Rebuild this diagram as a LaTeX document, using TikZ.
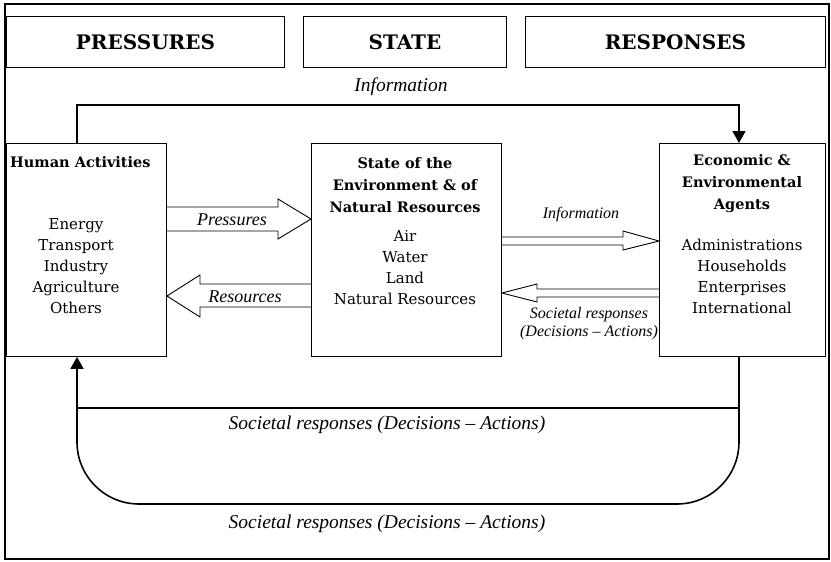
\documentclass[tikz,border=0pt]{standalone}
\usepackage{fontspec}
\setmainfont{DejaVu Serif}
\newfontfamily\labfont{Liberation Serif}
\usetikzlibrary{arrows.meta}
\begin{document}
\begin{tikzpicture}[x=1pt,y=-1pt,
  box/.style={draw, line width=0.9pt, inner sep=0pt, anchor=north west},
  conn/.style={line width=1.6pt, line join=miter},
  tip/.style={-{Triangle[length=12pt,width=13pt]}},
  blk/.style={draw, line width=0.9pt, line join=miter},
  lab/.style={font=\labfont\itshape\fontsize{19.5}{22}\selectfont, inner sep=0pt},
  mlab/.style={font=\labfont\itshape\fontsize{18}{20}\selectfont, inner sep=0pt},
  slab/.style={font=\labfont\itshape\fontsize{16}{18.5}\selectfont, inner sep=0pt, align=center},
  hdr/.style={font=\bfseries\fontsize{20}{22}\selectfont, inner sep=0pt},
  ttl/.style={font=\bfseries\fontsize{14.5}{22}\selectfont, align=center, inner sep=0pt},
  itm/.style={font=\fontsize{15}{21}\selectfont, align=center, inner sep=0pt},
]
\useasboundingbox (0,0) rectangle (831,562);
\draw[line width=1.8pt] (5,4) rectangle (829,559);
% header boxes
\node[box, minimum width=278pt, minimum height=51pt] (hp) at (6,16) {};
\node[box, minimum width=203pt, minimum height=51pt] (hs) at (303,16) {};
\node[box, minimum width=300pt, minimum height=51pt] (hr) at (525,16) {};
\node[hdr] (hpt) at (hp.center) {PRESSURES};
\node[hdr] (hst) at (hs.center) {STATE};
\node[hdr] (hrt) at (hr.center) {RESPONSES};
% main boxes
\node[box, minimum width=160pt, minimum height=213pt] (ha) at (6,143) {};
\node[box, minimum width=190pt, minimum height=213pt] (st) at (311,143) {};
\node[box, minimum width=166pt, minimum height=213pt] (ec) at (659,143) {};
\node[ttl, anchor=west] (hat) at (10,162) {Human Activities};
\node[itm] (hai) at (76,266.5) {Energy\\Transport\\Industry\\Agriculture\\Others};
\node[ttl] (stt) at (405,185) {State of the\\Environment \& of\\Natural Resources};
\node[itm] (sti) at (405,267.5) {Air\\Water\\Land\\Natural Resources};
\node[ttl] (ect) at (742,183.5) {Economic \&\\Environmental\\Agents};
\node[itm] (eci) at (742,276) {Administrations\\Households\\Enterprises\\International};
% block arrows
\draw[blk] (ha.east |- 0,207) -- (278,207) -- (278,199) -- (st.west |- 0,219)
  -- (278,239) -- (278,231) -- (ha.east |- 0,231);
\draw[blk] (st.west |- 0,284) -- (200,284) -- (200,275) -- (ha.east |- 0,296)
  -- (200,317) -- (200,307) -- (st.west |- 0,307);
\draw[blk] (st.east |- 0,237) -- (623,237) -- (623,231) -- (ec.west |- 0,241)
  -- (623,250) -- (623,245) -- (st.east |- 0,245);
\draw[blk] (ec.west |- 0,289) -- (537,289) -- (537,284) -- (st.east |- 0,293)
  -- (537,302) -- (537,297) -- (ec.west |- 0,297);
\node[mlab] (lp) at (232,220) {Pressures};
\node[mlab] (lr) at (245,297) {Resources};
\node[slab] (li) at (581,215) {Information};
\node[slab] (ls) at (589,323.5) {Societal responses\\(Decisions \textendash{} Actions)};
% top information loop
\draw[conn, tip] (ha.north -| 77,0) -- (77,105) -- (739,105) -- (ec.north -| 739,0);
\node[lab] (ltop) at (401,87) {Information};
% bottom loops
\coordinate (jr) at (739,408);
\coordinate (jl) at (77,408);
\draw[conn, tip] (ec.south -| jr) -- (jr) -- (jl) -- (ha.south -| jl);
\draw[conn, rounded corners=62pt] (jl) -- (77,504) -- (739,504) -- (jr);
\node[lab] (lb1) at (387,425) {Societal responses (Decisions \textendash{} Actions)};
\node[lab] (lb2) at (387,524) {Societal responses (Decisions \textendash{} Actions)};
\end{tikzpicture}
\end{document}
